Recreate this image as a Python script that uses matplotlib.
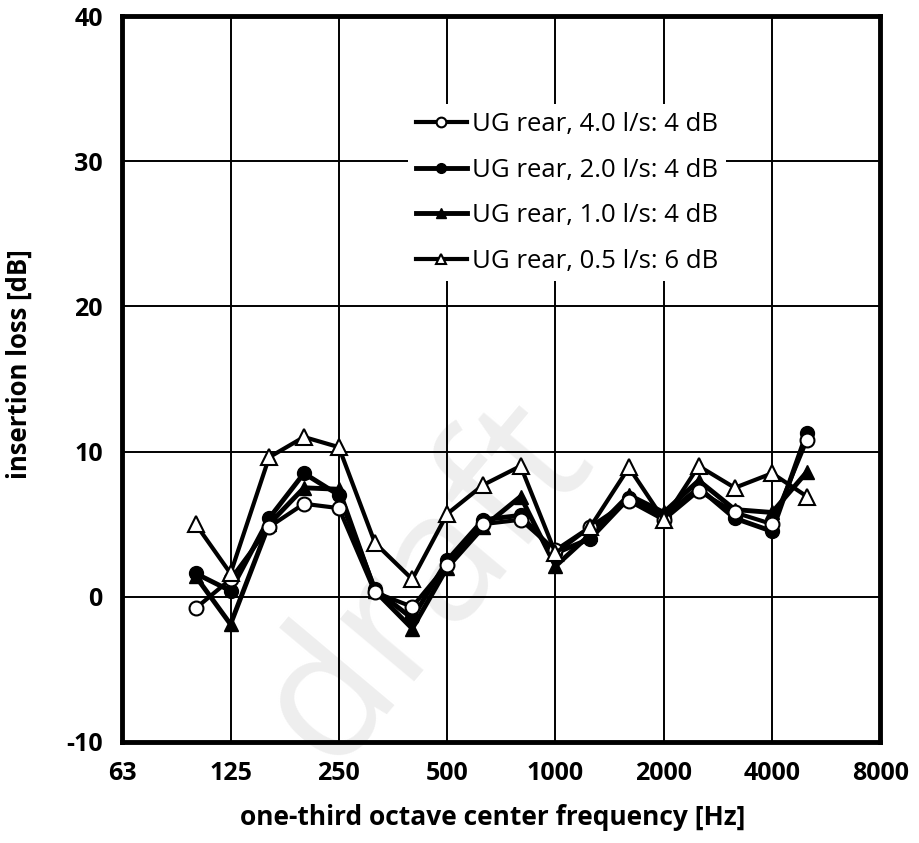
import numpy as np
import matplotlib
matplotlib.use('Agg')
import matplotlib.pyplot as plt

plt.rcParams['font.family'] = ['Open Sans', 'DejaVu Sans']
plt.rcParams['axes.unicode_minus'] = False

# one-third octave bands [Hz]
freqs = [100, 125, 160, 200, 250, 315, 400, 500, 630, 800,
         1000, 1250, 1600, 2000, 2500, 3150, 4000, 5000]

# insertion loss [dB]
il_40 = [-0.8, 1.2, 4.8, 6.4, 6.1, 0.3, -0.7, 2.2, 5.0, 5.3,
         3.2, 4.8, 6.6, 5.3, 7.3, 5.8, 5.0, 10.8]
il_20 = [1.6, 0.4, 5.4, 8.5, 7.0, 0.5, -1.5, 2.5, 5.3, 5.6,
         3.0, 4.0, 6.8, 5.5, 7.5, 5.4, 4.5, 11.3]
il_10 = [1.4, -1.9, 5.0, 7.5, 7.4, 0.4, -2.2, 2.0, 4.8, 6.9,
         2.1, 4.3, 7.0, 5.8, 8.0, 6.0, 5.8, 8.6]
il_05 = [5.0, 1.6, 9.6, 11.0, 10.3, 3.7, 1.2, 5.7, 7.7, 9.0,
         3.0, 4.8, 8.9, 5.3, 9.0, 7.5, 8.5, 6.9]

labels = ['UG rear, 4.0 l/s: 4 dB', 'UG rear, 2.0 l/s: 4 dB',
          'UG rear, 1.0 l/s: 4 dB', 'UG rear, 0.5 l/s: 6 dB']

xticks = [62.5, 125, 250, 500, 1000, 2000, 4000, 8000]
xticklabels = ['63', '125', '250', '500', '1000', '2000', '4000', '8000']
yticks = [-10, 0, 10, 20, 30, 40]

fig = plt.figure(figsize=(9.19, 8.43), dpi=100)
ax = fig.add_axes([0.133, 0.120, 0.825, 0.861])

# faint watermark
ax.text(0.40, 0.22, 'draft', transform=ax.transAxes, fontsize=130,
        rotation=50, color='#eeeeee', ha='center', va='center',
        zorder=0)

ax.plot(freqs, il_40, '-o', color='black', lw=3, ms=10, mfc='white',
        mec='black', mew=1.5, label=labels[0], zorder=5)
ax.plot(freqs, il_20, '-o', color='black', lw=3.5, ms=10, mfc='black',
        label=labels[1], zorder=4)
ax.plot(freqs, il_10, '-^', color='black', lw=3.5, ms=10, mfc='black',
        label=labels[2], zorder=3)
ax.plot(freqs, il_05, '-^', color='black', lw=3, ms=11, mfc='white',
        mec='black', mew=1.5, label=labels[3], zorder=6)

ax.set_xscale('log')
ax.set_xlim(62.5, 8000)
ax.set_ylim(-10, 40)
ax.set_xticks(xticks)
ax.set_xticklabels(xticklabels)
ax.minorticks_off()
ax.set_yticks(yticks)
ax.grid(True, color='black', lw=1.4)
ax.set_axisbelow(True)

for s in ax.spines.values():
    s.set_linewidth(3.5)

ax.tick_params(length=0, labelsize=18, pad=14)
ax.tick_params(axis='x', pad=14)
for t in ax.get_xticklabels() + ax.get_yticklabels():
    t.set_fontweight('bold')

ax.set_xlabel('one-third octave center frequency [Hz]', fontsize=19,
              fontweight='bold')
ax.xaxis.set_label_coords(0.488, -0.086)
ax.set_ylabel('insertion loss [dB]', fontsize=18.5, fontweight='bold')
ax.yaxis.set_label_coords(-0.118, 0.52)

leg = ax.legend(loc='upper left', bbox_to_anchor=(0.36, 0.896),
                fontsize=18.5, frameon=True, fancybox=False,
                handlelength=2.0, handletextpad=0.2, labelspacing=0.8,
                markerscale=0.7, borderpad=0.3)
leg.get_frame().set_edgecolor('none')
leg.get_frame().set_facecolor('white')
leg.get_frame().set_alpha(1)
leg.set_zorder(10)

fig.savefig('out.png', dpi=100)
